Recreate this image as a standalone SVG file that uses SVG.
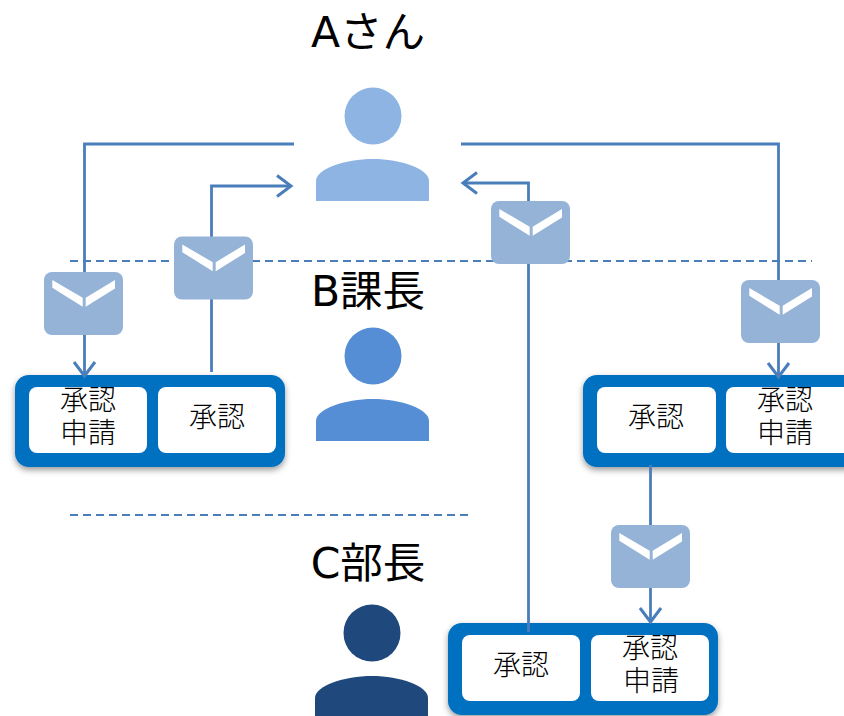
<svg xmlns="http://www.w3.org/2000/svg" xmlns:xlink="http://www.w3.org/1999/xlink" width="844" height="716" viewBox="0 0 844 716">
<style>
text{font-family:"DejaVu Sans","Noto Sans CJK JP",sans-serif;fill:#000;text-anchor:middle}
.title{font-size:42.500px}
.lbl{font-size:28px;font-weight:300;font-family:"Noto Sans CJK JP",sans-serif}
.conn{fill:none;stroke:#4A7EBB;stroke-width:2.800}
.dash{fill:none;stroke:#4A7EBB;stroke-width:2;stroke-dasharray:8 5}
.outer{fill:#0070C0;filter:url(#sh)}
.inner{fill:#fff}
.env{fill:#95B3D7}
.v{fill:#fff}
</style>
<defs>
<filter id="sh" x="-5%" y="-10%" width="110%" height="125%"><feDropShadow dx="0" dy="3" stdDeviation="3" flood-color="#000" flood-opacity="0.4"/></filter>
<marker id="arr" markerUnits="userSpaceOnUse" markerWidth="30" markerHeight="30" refX="20" refY="15" orient="auto"><path d="M6 4.500L20 15L6 25.500" fill="none" stroke="#4A7EBB" stroke-width="3"/></marker>
<g id="envelope"><rect width="79" height="63" rx="8" class="env"/><path class="v" d="M8.300 8L38.700 25.700V34.700L8.300 15.700ZM71 8L41.700 25.700V34.700L71 16.500Z"/></g>
<clipPath id="c1"><rect x="29" y="387" width="118" height="66"/></clipPath>
<clipPath id="c2"><rect x="726" y="387" width="118" height="66"/></clipPath>
<clipPath id="c3"><rect x="591" y="635" width="118" height="66"/></clipPath>
</defs>
<rect width="844" height="716" fill="#fff"/>
<g id="dividers">
<path class="dash" d="M70 261H812"/>
<path class="dash" d="M70 515H468"/>
</g>
<g id="person-a"><circle cx="373" cy="116" r="28.500" fill="#8EB4E3"/><path fill="#8EB4E3" d="M316 201V181C316 169 345 159 373 159C401 159 429 169 429 181V201Z"/><text class="title" x="368" y="47">Aさん</text></g>
<g id="person-b"><circle cx="373" cy="356" r="28.500" fill="#558ED5"/><path fill="#558ED5" d="M316 441V421C316 409 345 399 373 399C401 399 429 409 429 421V441Z"/><text class="title" x="368" y="306">B課長</text></g>
<g id="person-c"><circle cx="372" cy="633" r="28.500" fill="#1F497D"/><path fill="#1F497D" d="M315 716V698C315 686 344 676 372 676C400 676 428 686 428 698V716Z"/><text class="title" x="368" y="578">C部長</text></g>
<g id="box-b-left"><rect class="outer" x="15" y="375" width="270" height="92" rx="14"/><rect class="inner" x="29" y="387" width="118" height="66" rx="8"/><rect class="inner" x="158" y="387" width="118" height="66" rx="8"/>
<g clip-path="url(#c1)"><text class="lbl" x="88" y="410">承認</text></g><text class="lbl" x="88" y="443">申請</text><text class="lbl" x="217" y="427">承認</text></g>
<g id="box-b-right"><rect class="outer" x="583" y="375" width="280" height="92" rx="14"/><rect class="inner" x="597" y="387" width="119" height="66" rx="8"/><rect class="inner" x="726" y="387" width="130" height="66" rx="8"/>
<g clip-path="url(#c2)"><text class="lbl" x="785" y="410">承認</text></g><text class="lbl" x="785" y="443">申請</text><text class="lbl" x="656" y="427">承認</text></g>
<g id="box-c"><rect class="outer" x="448" y="623" width="270" height="92" rx="14"/><rect class="inner" x="462" y="635" width="118" height="66" rx="8"/><rect class="inner" x="591" y="635" width="118" height="66" rx="8"/>
<g clip-path="url(#c3)"><text class="lbl" x="650" y="658">承認</text></g><text class="lbl" x="651" y="691">申請</text><text class="lbl" x="521" y="675">承認</text></g>
<g id="connectors">
<path class="conn" marker-end="url(#arr)" d="M294 144H84.500V376"/>
<path class="conn" marker-end="url(#arr)" d="M211.500 372V186H291"/>
<path class="conn" marker-end="url(#arr)" d="M528.500 632V183H463"/>
<path class="conn" marker-end="url(#arr)" d="M461 144H778.500V377"/>
<path class="conn" marker-end="url(#arr)" d="M650.500 465V622"/>
</g>
<g id="envelopes">
<use xlink:href="#envelope" href="#envelope" x="44" y="272"/>
<use xlink:href="#envelope" href="#envelope" x="174" y="236.500"/>
<use xlink:href="#envelope" href="#envelope" x="491" y="201"/>
<use xlink:href="#envelope" href="#envelope" x="741" y="280"/>
<use xlink:href="#envelope" href="#envelope" x="611" y="525"/>
</g>
</svg>
